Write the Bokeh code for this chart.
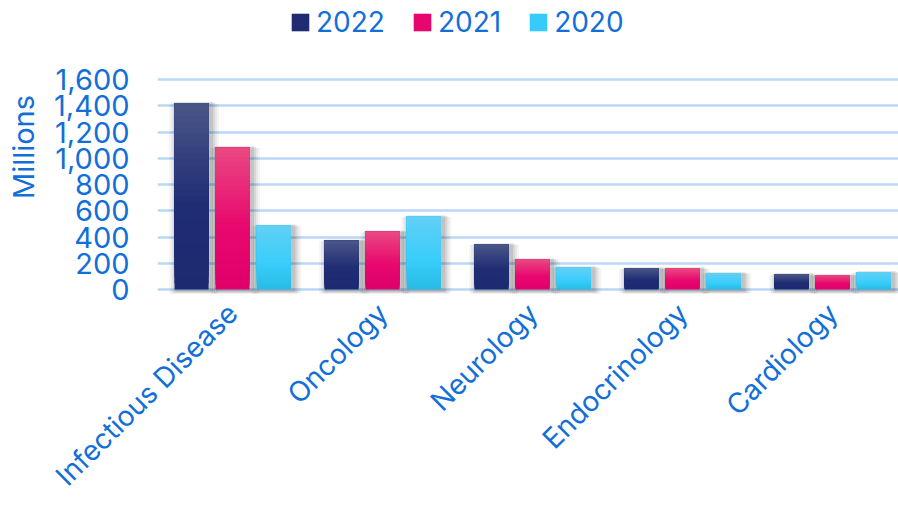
from bokeh.plotting import figure
from bokeh.models import (ColumnDataSource, Range1d, FixedTicker, NumeralTickFormatter,
                          Legend, LegendItem)
from bokeh.embed import file_html
from bokeh.resources import INLINE

# ---------------- data ----------------
categories = ["Infectious Disease", "Oncology", "Neurology", "Endocrinology", "Cardiology"]
years = ["2022", "2021", "2020"]
v2022 = [1420, 372, 343, 160, 115]
v2021 = [1082, 440, 229, 160, 107]
v2020 = [486, 555, 168, 122, 130]
y_ticks = [0, 200, 400, 600, 800, 1000, 1200, 1400, 1600]
y_title = "Millions"

# ---------------- style ----------------
TEXT = "#126fd8"
FONT = "Inter"
GRID = "#b9d8f7"
grad = {
    "2022": [(0.0, "#1d2a70"), (0.45, "#1f2d74"), (1.0, "#4b5688")],
    "2021": [(0.0, "#e0006a"), (0.45, "#e8086f"), (1.0, "#ea4982")],
    "2020": [(0.0, "#27bbe4"), (0.4, "#38cdfb"), (1.0, "#62d0f5")],
}
NSTRIP = 30
BAR_W = 0.227
OFFS = [-0.273, 0.0, 0.2755]
PXX = 1 / 150.0      # data units per px (x)
PXY = 1 / 0.1311     # data units per px (y)


def hex2rgb(h):
    h = h.lstrip("#")
    return tuple(int(h[i:i + 2], 16) for i in (0, 2, 4))


def color_at(stops, t):
    for (t0, c0), (t1, c1) in zip(stops[:-1], stops[1:]):
        if t0 <= t <= t1:
            f = (t - t0) / (t1 - t0)
            a, b = hex2rgb(c0), hex2rgb(c1)
            r = [round(a[i] + (b[i] - a[i]) * f) for i in range(3)]
            return "#%02x%02x%02x" % tuple(r)
    return stops[-1][1]


# the frame reaches the top of the canvas so the legend can sit inside it
p = figure(width=898, height=508, output_backend="svg", toolbar_location=None,
           x_range=Range1d(0, 4.94), y_range=Range1d(-30, 2204),
           min_border_left=157, min_border_right=0, min_border_top=0,
           min_border_bottom=215, outline_line_color=None,
           background_fill_color="white", border_fill_color="white")

series = {"2022": v2022, "2021": v2021, "2020": v2020}
xs = [i + 0.5 for i in range(len(categories))]

# shadows
sh = dict(left=[], right=[], bottom=[], top=[], alpha=[])
for yi, yr in enumerate(years):
    for ci, v in enumerate(series[yr]):
        cx = xs[ci] + OFFS[yi]
        for grow, a in [(8, 0.04), (6, 0.05), (4, 0.07), (2, 0.09)]:
            sh["left"].append(cx - BAR_W / 2 - grow * PXX + 2.5 * PXX)
            sh["right"].append(cx + BAR_W / 2 + grow * PXX + 2.5 * PXX)
            sh["bottom"].append(0 - (grow * 0.7 + 1) * PXY)
            sh["top"].append(v - grow * 0.3 * PXY + 2 * PXY)
            sh["alpha"].append(a)
p.quad(left="left", right="right", bottom="bottom", top="top",
       source=ColumnDataSource(sh), fill_color="black", fill_alpha="alpha",
       line_color=None)

renderers = {}
for yi, yr in enumerate(years):
    d = dict(left=[], right=[], bottom=[], top=[], color=[])
    for ci, v in enumerate(series[yr]):
        cx = xs[ci] + OFFS[yi]
        for k in range(NSTRIP):
            d["left"].append(cx - BAR_W / 2)
            d["right"].append(cx + BAR_W / 2)
            d["bottom"].append(v * k / NSTRIP)
            d["top"].append(v)
            d["color"].append(color_at(grad[yr], (k + 0.5) / NSTRIP))
    renderers[yr] = p.quad(left="left", right="right", bottom="bottom", top="top",
                           source=ColumnDataSource(d), fill_color="color",
                           line_color=None)

# axes
p.xgrid.grid_line_color = None
p.ygrid.grid_line_color = GRID
p.ygrid.grid_line_width = 2.5
p.ygrid.ticker = FixedTicker(ticks=y_ticks)

p.yaxis.ticker = FixedTicker(ticks=y_ticks)
p.yaxis.formatter = NumeralTickFormatter(format="0,0")
p.yaxis.axis_line_color = None
p.yaxis.major_tick_line_color = None
p.yaxis.minor_tick_line_color = None
p.yaxis.major_tick_out = 0
p.yaxis.major_tick_in = 0
p.yaxis.major_label_standoff = 28
p.yaxis.major_label_text_font = FONT
p.yaxis.major_label_text_font_size = "29px"
p.yaxis.major_label_text_color = TEXT
p.yaxis.axis_label = y_title
p.yaxis.axis_label_text_font = FONT
p.yaxis.axis_label_text_font_size = "29px"
p.yaxis.axis_label_text_font_style = "normal"
p.yaxis.axis_label_text_color = TEXT
p.yaxis.axis_label_standoff = 10

p.xaxis.ticker = FixedTicker(ticks=xs)
p.xaxis.major_label_overrides = {x: c for x, c in zip(xs, categories)}
p.xaxis.major_label_orientation = 0.785398
p.xaxis.axis_line_color = None
p.xaxis.major_tick_line_color = None
p.xaxis.minor_tick_line_color = None
p.xaxis.major_tick_out = 0
p.xaxis.major_tick_in = 0
p.xaxis.major_label_standoff = 15
p.xaxis.major_label_text_font = FONT
p.xaxis.major_label_text_font_size = "28px"
p.xaxis.major_label_text_color = TEXT

# legend (inside the extended frame, above the chart area)
mid = int(NSTRIP * 0.35)
items = [LegendItem(label=yr, renderers=[renderers[yr]], index=mid) for yr in years]
legend = Legend(items=items, orientation="horizontal", location=(132, 254),
                padding=0, margin=0, spacing=26, label_standoff=5,
                glyph_width=22, glyph_height=22,
                label_text_font=FONT, label_text_font_size="28px",
                label_text_color=TEXT, border_line_color=None,
                background_fill_alpha=0)
p.add_layout(legend, "center")

open("out.html", "w").write(file_html(p, INLINE))
